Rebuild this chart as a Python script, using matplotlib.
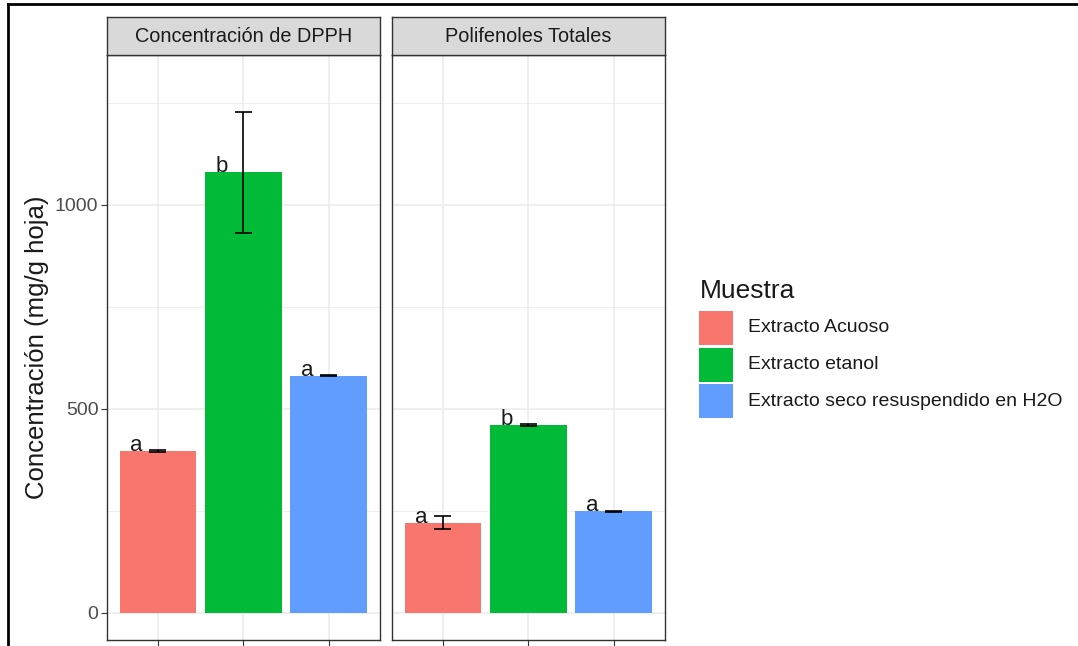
import matplotlib.pyplot as plt
from matplotlib.patches import Rectangle
from matplotlib.lines import Line2D

plt.rcParams['font.family'] = ['Liberation Sans', 'DejaVu Sans']

# datos de los ensayos
paneles = ['Concentración de DPPH', 'Polifenoles Totales']
muestras = ['Extracto Acuoso', 'Extracto etanol', 'Extracto seco resuspendido en H2O']
colores = ['#F8766D', '#00BA38', '#619CFF']

media_dpph = [397, 1079, 581]
sd_dpph = [2, 149, 2]
letras_dpph = ['a', 'b', 'a']

media_poli = [221, 460, 248]
sd_poli = [17, 2, 2]
letras_poli = ['a', 'b', 'a']

datos = [(media_dpph, sd_dpph, letras_dpph), (media_poli, sd_poli, letras_poli)]

W, H = 1078, 646
fig = plt.figure(figsize=(W / 100, H / 100), dpi=100)
fig.patch.set_facecolor('white')

def fx(px):
    return px / W

def fy(py):
    return 1 - py / H

panel_x = [106.7, 391.7]
panel_w = 273.3
top, bottom, strip_top = 55, 640, 17

for k, (media, sd, letras) in enumerate(datos):
    ax = fig.add_axes([fx(panel_x[k]), fy(bottom), panel_w / W, (bottom - top) / H])
    x = [1, 2, 3]
    ax.bar(x, media, width=0.9, color=colores, zorder=2)
    for xi, m, s, l in zip(x, media, sd, letras):
        ax.vlines(xi, m - s, m + s, color='black', lw=1.2, zorder=3)
        ax.hlines([m - s, m + s], xi - 0.1, xi + 0.1, color='black', lw=1.2, zorder=3)
        ax.text(xi - 0.25, m, l, ha='center', va='baseline', fontsize=16,
                color='#1a1a1a', zorder=4)
    ax.set_xlim(0.4, 3.6)
    ax.set_ylim(-67, 1367)
    ax.set_xticks(x)
    ax.set_xticklabels([])
    ax.set_yticks([0, 500, 1000])
    ax.set_yticks([250, 750, 1250], minor=True)
    ax.grid(which='major', color='#EBEBEB', lw=1.1, zorder=0)
    ax.grid(which='minor', axis='y', color='#EBEBEB', lw=0.6, zorder=0)
    ax.tick_params(which='minor', length=0)
    ax.tick_params(which='major', length=4, width=0.8, color='#333333',
                   labelsize=14, labelcolor='#4D4D4D', pad=2)
    for sp in ax.spines.values():
        sp.set_color('#333333')
        sp.set_linewidth(1.0)
    if k == 0:
        ax.set_yticklabels(['0', '500', '1000'])
        ax.set_ylabel('Concentración (mg/g hoja)', fontsize=18.5, color='#1a1a1a', labelpad=4)
    else:
        ax.set_yticklabels([])
        ax.tick_params(axis='y', length=0)

    # franja con el nombre del panel
    sx = fig.add_axes([fx(panel_x[k]), fy(top), panel_w / W, (top - strip_top) / H])
    sx.set_facecolor('#D9D9D9')
    sx.set_xticks([])
    sx.set_yticks([])
    for sp in sx.spines.values():
        sp.set_color('#333333')
        sp.set_linewidth(1.0)
    sx.text(0.5, 0.5, paneles[k], ha='center', va='center', fontsize=14.3,
            color='#1a1a1a', transform=sx.transAxes)

# leyenda
fig.text(fx(700), fy(291), 'Muestra', ha='left', va='center', fontsize=19, color='#1a1a1a')
key, paso = 34, 36.5
for i, (c, m) in enumerate(zip(colores, muestras)):
    y0 = 311 + i * paso
    fig.add_artist(Rectangle((fx(699), fy(y0 + key)), key / W, key / H,
                             facecolor=c, edgecolor='none', transform=fig.transFigure))
    fig.text(fx(748), fy(y0 + key / 2), m, ha='left', va='center', fontsize=14, color='#1a1a1a')

# marco negro superior e izquierdo
fig.add_artist(Line2D([fx(8), 1], [fy(4), fy(4)], color='black', lw=2))
fig.add_artist(Line2D([fx(8), fx(8)], [fy(4), 0], color='black', lw=2))

fig.savefig('out.png', dpi=100)
